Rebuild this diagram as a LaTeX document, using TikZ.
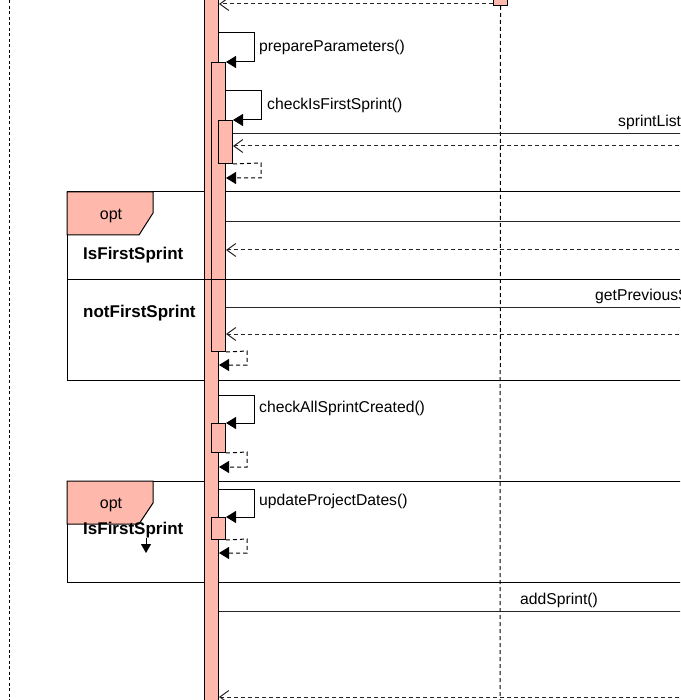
\documentclass[tikz,border=0pt]{standalone}
\usepackage{fontspec}
\setmainfont{Liberation Sans}
\usetikzlibrary{arrows.meta}
\definecolor{actfill}{RGB}{255,184,172}
\begin{document}
\begin{tikzpicture}[x=1pt,y=-1pt,
  bar/.style={draw=black, fill=actfill, line width=1pt, inner sep=0pt, anchor=north west, minimum width=14pt},
  msg/.style={draw=black!85, line width=1pt},
  ret/.style={draw=black!85, line width=1pt, dash pattern=on 4pt off 3pt, -{Straight Barb[length=9pt,width=13pt]}},
  selfret/.style={draw=black, line width=1pt, dash pattern=on 4pt off 3pt, -{Triangle[length=10pt,width=12pt]}},
  selfcall/.style={draw=black, line width=1pt, -{Triangle[length=10pt,width=12pt]}},
  lifeline/.style={draw=black, line width=1pt, dash pattern=on 4pt off 3pt},
  lbl/.style={anchor=west, inner sep=0pt, font=\fontsize{15.7}{18}\selectfont},
  cond/.style={anchor=west, inner sep=0pt, font=\fontsize{17}{19}\selectfont\bfseries},
  optlbl/.style={inner sep=0pt, font=\fontsize{16}{19}\selectfont},
  frame/.style={draw=black, line width=1pt},
  tab/.style={draw=black, fill=actfill, line width=1pt}
]
\useasboundingbox (0,0) rectangle (680,700);
\clip (0,0) rectangle (680,700);

% coordinates off the right edge
\coordinate (LAtop) at (9,-5);
\coordinate (LAbot) at (9,705);
\coordinate (LBbot) at (500,705);
\coordinate (R0) at (700,134);
\coordinate (R1) at (700,146);
\coordinate (R2) at (700,222);
\coordinate (R3) at (700,250);
\coordinate (R4) at (700,307);
\coordinate (R5) at (700,334);
\coordinate (R6) at (700,611);
\coordinate (R7) at (700,697);

% frames (behind bars)
\draw[frame] (67,192) rectangle (700,380);
\draw[frame] (67,481) rectangle (700,582);

% lifelines
\draw[lifeline, dash pattern=on 3pt off 2.5pt] (LAtop) -- (LAbot);
\node[bar, minimum height=15pt] (B0) at (493,-10) {};
\draw[lifeline] (B0.south) -- (LBbot);

% activation bars
\node[bar, minimum height=715pt] (A0) at (204,-8) {};
\node[bar, minimum height=289pt] (A1) at (211,62) {};
\node[bar, minimum height=43pt] (A2) at (218,120) {};
\node[bar, minimum height=29pt] (A3) at (211,423) {};
\node[bar, minimum height=22pt] (A4) at (211,517) {};

% dividers
\draw[frame] (67,279) -- (700,279);

% top return
\draw[ret] (B0.west |- 0,4) -- (A0.east |- 0,4);

% prepareParameters
\draw[selfcall] (A0.east |- 0,33) -- (254,33) -- (254,62) -- (A1.north east);
\node[lbl] (t1) at (259,47.5) {prepareParameters()};

% checkIsFirstSprint
\draw[selfcall] (A1.east |- 0,91) -- (261,91) -- (261,120) -- (A2.north east);
\node[lbl] (t2) at (267,105.5) {checkIsFirstSprint()};

\draw[msg] (A2.east |- 0,134) -- (R0);
\node[lbl] (t3) at (618,122.5) {sprintList};
\draw[ret] (R1) -- (A2.east |- 0,146);
\draw[selfret] (A2.south east) -- (261,163) -- (261,178) -- (A1.east |- 0,178);

% opt 1
\filldraw[tab] (67,192) -- (153,192) -- (153,213) -- (139,235) -- (67,235) -- cycle;
\node[optlbl] (o1) at (111,215.5) {opt};
\node[cond] (c1) at (83,255.5) {IsFirstSprint};
\node[cond] (c2) at (83,313.5) {notFirstSprint};
\draw[msg] (A1.east |- 0,222) -- (R2);
\draw[ret] (R3) -- (A1.east |- 0,250);
\draw[msg] (A1.east |- 0,307) -- (R4);
\node[lbl] (t4) at (595,296.5) {getPreviousSprint};
\draw[ret] (R5) -- (A1.east |- 0,334);
\draw[selfret] (A1.south east) -- (247,351) -- (247,365) -- (A0.east |- 0,365);

% checkAllSprintCreated
\draw[selfcall] (A0.east |- 0,395) -- (254,395) -- (254,423) -- (A3.north east);
\node[lbl] (t5) at (259,408.5) {checkAllSprintCreated()};
\draw[selfret] (A3.south east) -- (247,452) -- (247,467) -- (A0.east |- 0,467);

% opt 2
\filldraw[tab] (67,481) -- (153,481) -- (153,503) -- (139,524) -- (67,524) -- cycle;
\node[optlbl] (o2) at (111,504.5) {opt};
\node[cond] (c3) at (83,530.5) {IsFirstSprint};
\coordinate (s1) at (146,538);
\coordinate (s2) at (146,553);
\draw[line width=0.8pt, -{Triangle[length=9pt,width=10pt]}] (s1) -- (s2);

% updateProjectDates
\draw[selfcall] (A0.east |- 0,489) -- (254,489) -- (254,517) -- (A4.north east);
\node[lbl] (t6) at (259,501.5) {updateProjectDates()};
\draw[selfret] (A4.south east) -- (247,539) -- (247,553) -- (A0.east |- 0,553);

% addSprint
\draw[msg] (A0.east |- 0,611) -- (R6);
\node[lbl] (t7) at (520,600.5) {addSprint()};
\draw[ret] (R7) -- (A0.east |- 0,697);
\end{tikzpicture}
\end{document}
